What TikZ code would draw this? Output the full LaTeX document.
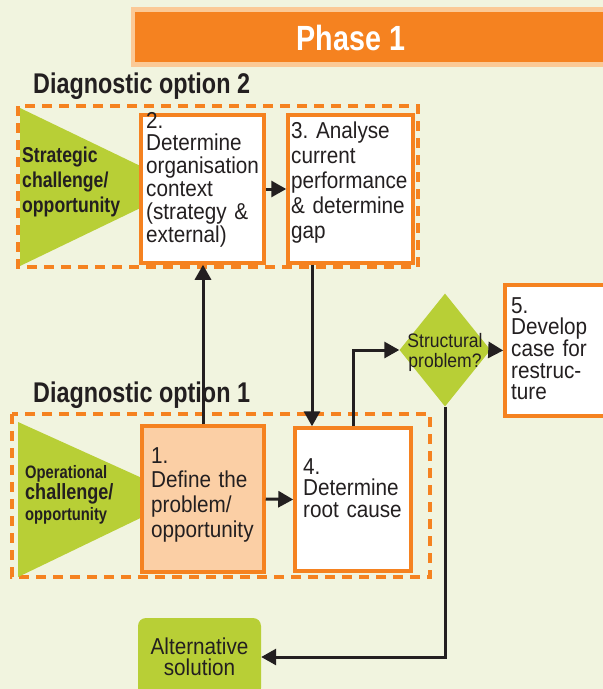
\documentclass[tikz,border=0pt]{standalone}
\usepackage{fontspec}
\setmainfont{Liberation Sans}[FakeStretch=0.9, WordSpace=0.7]
\newfontfamily\headfont{Liberation Sans}[FakeStretch=0.82]
\usetikzlibrary{arrows.meta,shapes.geometric,calc}
\frenchspacing

\definecolor{bg}{HTML}{F1F4DF}
\definecolor{orng}{HTML}{F58220}
\definecolor{phaselight}{HTML}{FBC996}
\definecolor{peach}{HTML}{FBCFA5}
\definecolor{lime}{HTML}{B8CF36}
\definecolor{ink}{HTML}{231F20}

\tikzset{
  dashframe/.style={draw=orng, line width=4pt, dash pattern=on 10pt off 7pt},
  stepbox/.style={draw=orng, line width=3.5pt, fill=white, inner sep=0pt, rectangle},
  bodytext/.style={inner sep=0pt, anchor=base west, align=left, text=ink, text width=#1},
  heading/.style={inner sep=0pt, anchor=base west, text=ink,
    font=\headfont\bfseries\fontsize{28.5}{30}\selectfont},
  conn/.style={draw=ink, line width=3pt, -{Triangle[length=15pt,width=16pt]}},
}

\begin{document}
\begin{tikzpicture}[x=1pt,y=-1pt]
\clip (0,0) rectangle (603,689);
\fill[bg] (0,0) rectangle (603,689);

% phase banner
\node[fill=phaselight, inner sep=0pt, minimum width=472pt, minimum height=60pt, anchor=north west] (phaseback) at (131,7) {};
\node[fill=orng, inner sep=0pt, minimum width=470pt, minimum height=50pt, anchor=north west] (phase) at (135,12) {};
\node[inner sep=0pt, anchor=base, text=white, font=\headfont\bfseries\fontsize{35}{35}\selectfont] (phasetxt) at (351,50) {Phase 1};

% option headings
\node[heading] (opt2) at (33,93) {Diagnostic option 2};
\node[heading] (opt1) at (33,402) {Diagnostic option 1};

% dashed option frames
\draw[dashframe] (18,106) rectangle (418,267);
\draw[dashframe] (12,414) rectangle (430,577);

% challenge wedges
\fill[lime] (20,108) -- (184,187) -- (20,266) -- cycle;
\fill[lime] (18,422) -- (184,497) -- (18,577) -- cycle;
\node[bodytext=130pt, font=\headfont\bfseries\fontsize{21.5}{25}\selectfont] (strat) at (22,162)
  {Strategic\\challenge/\\opportunity};
\node[bodytext=130pt, font=\headfont\bfseries\fontsize{18}{21}\selectfont] (oper) at (25,478)
  {Operational\\{\fontsize{22}{21}\selectfont challenge/}\\opportunity};

% step boxes
\node[stepbox, minimum width=123pt, minimum height=148pt] (box2) at (202.5,189) {};
\node[stepbox, minimum width=125pt, minimum height=148pt] (box3) at (350.5,189) {};
\node[stepbox, fill=peach, minimum width=122pt, minimum height=146pt] (box1) at (203,499) {};
\node[stepbox, minimum width=116pt, minimum height=143pt] (box4) at (353,499.5) {};
\node[stepbox, minimum width=101pt, minimum height=131pt] (box5) at (555.5,350.5) {};
\node[diamond, fill=lime, inner sep=0pt, minimum width=91pt, minimum height=113pt] (dia) at (445,350) {};
\node[fill=lime, rounded corners=8pt, inner sep=0pt, minimum width=123pt, minimum height=78pt] (alt) at (199.5,657) {};

% step texts
\node[bodytext=125pt, font=\fontsize{23}{22.8}\selectfont] (t2) at (146,128)
  {2.\\Determine\\organisation\\context\\(strategy \&\\external)};
\node[bodytext=125pt, font=\fontsize{23}{25.2}\selectfont] (t3) at (291,138)
  {3. Analyse\\current\\performance\\\& determine\\gap};
\node[bodytext=125pt, font=\fontsize{23}{24.7}\selectfont] (t1) at (151,463)
  {1.\\Define the\\problem/\\opportunity};
\node[bodytext=125pt, font=\fontsize{23}{21.5}\selectfont] (t4) at (303,474)
  {4.\\Determine\\root cause};
\node[bodytext=100pt, font=\fontsize{23}{21.3}\selectfont] (t5) at (511,313)
  {5.\\Develop\\case for\\restruc-\\ture};
\node[inner sep=0pt, anchor=base, align=center, text=ink, text width=100pt,
      font=\fontsize{19.5}{20}\selectfont] (diatext) at (445,347) {Structural\\problem?};
\node[inner sep=0pt, anchor=base, align=center, text=ink, text width=120pt,
      font=\fontsize{23}{21}\selectfont] (alttext) at (199.5,654) {Alternative\\solution};

% connectors
\draw[conn] (box2.east) -- (box3.west);
\draw[conn] (box1.north) -- (box1.north |- box2.south);
\draw[conn] ([xshift=-38.5pt]box3.south) -- ([xshift=-38.5pt]box3.south |- box4.north);
\draw[conn] (box1.east) -- (box4.west);
\draw[conn] (box4.north) |- (dia.west);
\draw[conn] (dia.east) -- (box5.west);
\draw[conn] (dia.south) |- (alt.east);
\end{tikzpicture}
\end{document}
